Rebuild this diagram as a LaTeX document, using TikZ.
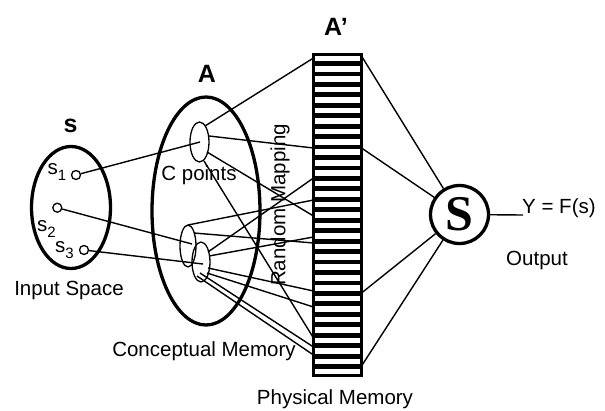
\documentclass[tikz,border=0pt]{standalone}
\usepackage{fontspec}
\setmainfont{Liberation Sans}
\newfontfamily\bigserif{Liberation Serif}
\usetikzlibrary{shapes.geometric,calc}
\begin{document}
\begin{tikzpicture}[x=1pt,y=-1pt,
  thickln/.style={line width=3.3pt},
  conn/.style={line width=1.4pt},
  txt/.style={font=\fontsize{20.5}{24}\selectfont, inner sep=0pt},
  boldlab/.style={font=\fontsize{25}{30}\selectfont\bfseries, inner sep=0pt},
  dotc/.style={circle, draw, line width=1.3pt, minimum size=9pt, inner sep=0pt},
  smallell/.style={ellipse, draw, line width=1.3pt, inner sep=0pt}]
\useasboundingbox (0,0) rectangle (605,410);
\newcommand\subx[1]{\raisebox{-6.5pt}{\fontsize{15}{15}\selectfont #1}}

% ---------- input space ----------
\node[ellipse, draw, thickln, minimum width=79, minimum height=122, inner sep=0pt] (inp) at (71,207.5) {};
\node[boldlab] (slab) at (70.5,126) {s};
\node[txt, anchor=base west] (s1t) at (47.5,174) {s\subx{1}};
\node[txt, anchor=base west] (s2t) at (37,231) {s\subx{2}};
\node[txt, anchor=base west] (s3t) at (55,252) {s\subx{3}};
\node[dotc] (s1) at (76,175) {};
\node[dotc] (s2) at (57.3,207.7) {};
\node[dotc] (s3) at (84,250) {};
\node[txt, anchor=base] (inlab) at (69,295) {Input Space};

% ---------- conceptual memory A ----------
\node[ellipse, draw, thickln, minimum width=108, minimum height=228, inner sep=0pt] (A) at (206,211) {};
\node[boldlab] (Alab) at (207,74) {A};
\node[smallell, minimum width=19, minimum height=40] (cp) at (199.5,142) {};
\node[smallell, minimum width=16, minimum height=42] (c1) at (188,246) {};
\node[smallell, minimum width=18, minimum height=40] (c2) at (201,262) {};
\node[txt, anchor=base] (cplab) at (199,180) {C points};
\node[txt, anchor=base] (cmlab) at (204,356) {Conceptual Memory};
\node[txt, rotate=90] (rmlab) at (280,205) {Random Mapping};

% ---------- physical memory A' ----------
\foreach \i in {1,...,30}
  \fill (312,{53+\i*10.452-2.4}) rectangle (363,{53+\i*10.452+2.4});
\node[draw, thickln, minimum width=48, minimum height=321, inner sep=0pt] (col) at (337.5,215) {};
\node[boldlab, anchor=base] (Aplab) at (336,35) {A’};
\node[txt, anchor=base] (pmlab) at (335,404.5) {Physical Memory};

% ---------- output ----------
\node[circle, draw, thickln, minimum size=58, inner sep=0pt,
      font=\bigserif\bfseries\fontsize{50}{50}\selectfont] (out) at (459.5,214.5) {S};
\coordinate (yend) at (523,215);
\node[txt, anchor=base west] (ylab) at (522,213) {Y = F(s)};
\node[txt, anchor=base] (olab) at (537,265) {Output};

% ---------- coordinates ----------
\coordinate (cpc) at (200,142);
\coordinate (cpa) at (205,126);
\coordinate (cpb) at (209,136);
\coordinate (cpd) at (207,152);
\coordinate (cpe) at (204,161);
\coordinate (c1c) at (192,244);
\coordinate (c1a) at (188,225);
\coordinate (c1b) at (194,233);
\coordinate (c2c) at (203,264);
\coordinate (c2a) at (208,252);
\coordinate (c2b) at (209,256);
\coordinate (c2d) at (208,268);
\coordinate (c2e) at (207,273);
\coordinate (c2f) at (200,273);
\coordinate (c2g) at (197,276);
\foreach \n/\y in {L1/58,L2/148,L3/178,L4/200,L5/216,L6/237,L7/243,L8/291,L9/307,L10/338,L11/347,L12/355}
  \coordinate (\n) at (313.5,\y);
\foreach \n/\y in {R1/56,R2/148,R3/293,R4/366}
  \coordinate (\n) at (361.5,\y);

% ---------- connectors ----------
\draw[conn] (s1) -- (cpc);
\draw[conn] (s2) -- (c1c);
\draw[conn] (s3) -- (c2c);
\draw[conn] (cpa) -- (L1);
\draw[conn] (cpb) -- (L2);
\draw[conn] (cpd) -- (L5);
\draw[conn] (cpe) -- (L10);
\draw[conn] (c1a) -- (L4);
\draw[conn] (c1b) -- (L7);
\draw[conn] (c2a) -- (L3);
\draw[conn] (c2b) -- (L6);
\draw[conn] (c2d) -- (L8);
\draw[conn] (c2e) -- (L9);
\draw[conn] (c2f) -- (L11);
\draw[conn] (c2g) -- (L12);
\foreach \r in {R1,R2,R3,R4}
  \draw[conn] (\r) -- (out);
\draw[conn] (out) -- (yend);
\end{tikzpicture}
\end{document}
